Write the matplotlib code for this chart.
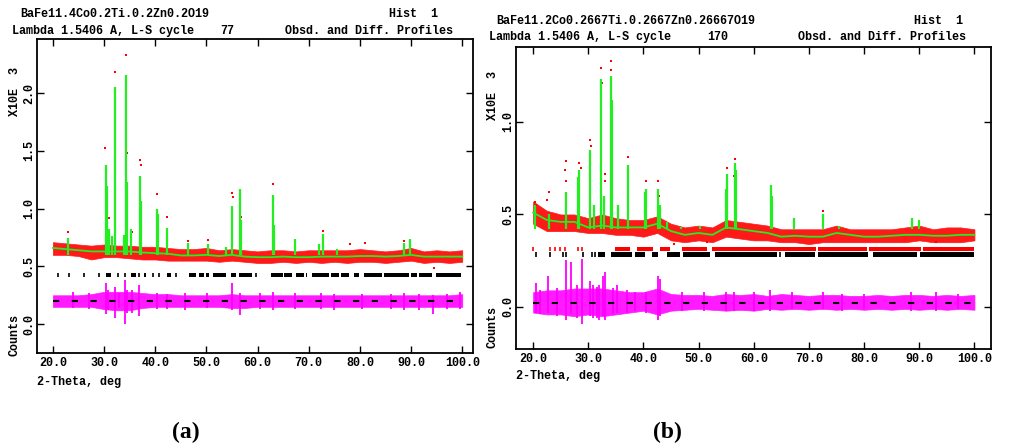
import numpy as np
import matplotlib.pyplot as plt

plt.rcParams['font.family'] = ['Liberation Mono', 'DejaVu Sans Mono']
plt.rcParams['font.weight'] = 'bold'

W, H = 1012, 445
green = '#22ee22'
red = '#ff0000'
magenta = '#ff00ff'
txt_size = 8.5

# common 2-theta knots for bands (every 2.5 deg)
knot_x = [20, 22.5, 25, 27.5, 30, 32.5, 35, 37.5, 40, 42.5, 45, 47.5, 50, 52.5, 55, 57.5, 60,
          62.5, 65, 67.5, 70, 72.5, 75, 77.5, 80, 82.5, 85, 87.5, 90, 92.5, 95, 97.5, 100]

# ---------------- panel (a) ----------------
a_bg = [0.66, 0.65, 0.64, 0.63, 0.63, 0.63, 0.63, 0.62, 0.615, 0.61, 0.595, 0.595, 0.60, 0.59, 0.60, 0.585, 0.58,
        0.58, 0.585, 0.58, 0.58, 0.585, 0.585, 0.585, 0.59, 0.59, 0.585, 0.59, 0.60, 0.585, 0.585, 0.585, 0.585]
a_obs_lo = [0.60, 0.60, 0.59, 0.56, 0.58, 0.58, 0.57, 0.56, 0.56, 0.55, 0.55, 0.55, 0.55, 0.54, 0.55, 0.54, 0.53,
            0.53, 0.54, 0.53, 0.54, 0.53, 0.54, 0.53, 0.54, 0.54, 0.53, 0.54, 0.55, 0.53, 0.54, 0.53, 0.54]
a_obs_hi = [0.71, 0.70, 0.69, 0.68, 0.69, 0.68, 0.68, 0.67, 0.67, 0.66, 0.65, 0.65, 0.66, 0.64, 0.65, 0.64, 0.63,
            0.64, 0.64, 0.63, 0.64, 0.64, 0.64, 0.64, 0.65, 0.64, 0.63, 0.64, 0.66, 0.63, 0.64, 0.63, 0.64]
a_peak_x = [22.9, 30.3, 30.5, 31.0, 31.5, 32.2, 33.9, 34.2, 34.4, 35.2, 37.1, 37.3, 40.3, 40.6, 42.4, 46.5,
            50.3, 53.8, 55.1, 56.5, 56.8, 63.1, 63.3, 67.4, 72.0, 72.7, 75.5, 88.6, 89.7]
a_peak_y = [0.75, 1.38, 1.20, 0.82, 0.76, 2.05, 0.77, 2.16, 1.23, 0.82, 1.28, 1.07, 1.00, 0.95, 0.83, 0.70,
            0.69, 0.67, 1.02, 1.17, 0.90, 1.12, 0.86, 0.74, 0.69, 0.78, 0.65, 0.70, 0.74]
a_dot_x = [22.9, 30.2, 31.0, 32.1, 34.2, 34.4, 35.4, 37.1, 37.2, 40.3, 42.4, 46.5, 50.3, 55.1, 55.2, 56.6,
           56.7, 63.1, 72.7, 78.0, 81.0, 88.7, 94.5]
a_dot_y = [0.80, 1.53, 0.92, 2.18, 2.33, 1.48, 0.80, 1.42, 1.38, 1.13, 0.93, 0.72, 0.73, 1.14, 1.10, 0.95,
           0.93, 1.21, 0.81, 0.69, 0.70, 0.72, 0.49]
a_diff_lo = [0.15, 0.15, 0.15, 0.15, 0.13, 0.12, 0.12, 0.14, 0.15, 0.15, 0.15, 0.15, 0.15, 0.15, 0.14, 0.14, 0.15,
             0.15, 0.15, 0.15, 0.15, 0.15, 0.15, 0.15, 0.15, 0.15, 0.15, 0.15, 0.15, 0.15, 0.15, 0.15, 0.15]
a_diff_hi = [0.25, 0.25, 0.25, 0.26, 0.28, 0.28, 0.28, 0.27, 0.26, 0.26, 0.25, 0.25, 0.25, 0.25, 0.26, 0.25, 0.25,
             0.25, 0.25, 0.25, 0.25, 0.25, 0.25, 0.25, 0.25, 0.25, 0.25, 0.25, 0.25, 0.25, 0.25, 0.25, 0.26]
a_spike_x = [24.0, 27.0, 30.3, 30.7, 32.2, 33.0, 34.1, 34.4, 35.4, 36.9, 40.4, 42.4, 45.8, 50.2, 55.1, 56.5,
             60.5, 63.0, 67.3, 72.3, 75.0, 80.5, 86.0, 88.6, 91.5, 94.2, 97.0, 99.5]
a_spike_lo = [0.14, 0.13, 0.09, 0.12, 0.05, 0.14, 0.00, 0.10, 0.10, 0.07, 0.13, 0.13, 0.12, 0.14, 0.12, 0.08,
              0.13, 0.12, 0.13, 0.13, 0.12, 0.13, 0.13, 0.12, 0.12, 0.09, 0.13, 0.13]
a_spike_hi = [0.28, 0.27, 0.36, 0.30, 0.32, 0.27, 0.38, 0.30, 0.30, 0.34, 0.27, 0.26, 0.27, 0.27, 0.36, 0.27,
              0.27, 0.28, 0.27, 0.27, 0.26, 0.26, 0.26, 0.27, 0.26, 0.25, 0.26, 0.28]
a_hkl_x = [21.0, 23.1, 26.0, 29.0, 32.7, 34.0, 36.9, 39.5, 40.8, 44.1, 59.7]
a_run_start = [30.4, 35.3, 37.9, 42.4, 46.7, 48.6, 49.9, 51.2, 54.8, 56.4, 62.6, 65.2, 67.5, 69.4, 70.7, 74.3,
               76.3, 78.9, 80.8, 84.7, 89.9, 91.6, 94.8]
a_run_end = [31.4, 36.3, 38.2, 43.1, 48.0, 49.6, 50.6, 53.8, 55.8, 59.0, 64.9, 66.8, 69.1, 69.7, 74.0, 75.9,
             77.9, 79.9, 84.3, 89.6, 91.2, 94.1, 99.7]

# ---------------- panel (b) ----------------
b_bg = [0.51, 0.47, 0.46, 0.46, 0.43, 0.44, 0.43, 0.43, 0.43, 0.45, 0.41, 0.39, 0.40, 0.39, 0.43, 0.42, 0.41,
        0.40, 0.38, 0.385, 0.38, 0.38, 0.40, 0.39, 0.38, 0.38, 0.385, 0.39, 0.39, 0.385, 0.385, 0.39, 0.39]
b_obs_lo = [0.45, 0.41, 0.41, 0.41, 0.40, 0.40, 0.39, 0.39, 0.38, 0.40, 0.36, 0.35, 0.36, 0.35, 0.38, 0.37, 0.36,
            0.36, 0.35, 0.35, 0.34, 0.35, 0.35, 0.35, 0.35, 0.35, 0.35, 0.35, 0.36, 0.35, 0.35, 0.35, 0.36]
b_obs_hi = [0.57, 0.52, 0.50, 0.50, 0.48, 0.50, 0.48, 0.47, 0.47, 0.49, 0.45, 0.43, 0.44, 0.43, 0.47, 0.46, 0.45,
            0.44, 0.42, 0.42, 0.42, 0.42, 0.44, 0.42, 0.42, 0.42, 0.42, 0.43, 0.44, 0.42, 0.43, 0.43, 0.42]
b_peak_x = [20.3, 22.8, 25.9, 28.2, 28.4, 30.4, 31.0, 32.3, 32.9, 34.2, 34.3, 35.4, 37.2, 40.3, 40.5, 42.6,
            43.0, 44.3, 46.8, 50.2, 54.9, 55.2, 56.6, 56.8, 63.1, 63.3, 67.3, 72.6, 75.5, 88.7, 89.9, 97.0]
b_peak_y = [0.55, 0.50, 0.62, 0.70, 0.74, 0.85, 0.55, 1.23, 0.60, 1.25, 1.12, 0.55, 0.77, 0.62, 0.64, 0.64,
            0.55, 0.46, 0.43, 0.44, 0.64, 0.72, 0.78, 0.74, 0.66, 0.60, 0.48, 0.50, 0.44, 0.48, 0.47, 0.42]
b_dot_x = [20.3, 20.6, 22.6, 22.8, 25.8, 25.9, 26.0, 28.4, 28.6, 30.4, 30.5, 32.3, 32.4, 33.0, 33.1, 34.2,
           34.2, 37.2, 40.4, 42.6, 42.8, 45.5, 51.5, 55.2, 56.4, 56.6, 63.2, 72.6, 93.0]
b_dot_y = [0.57, 0.55, 0.58, 0.62, 0.74, 0.79, 0.68, 0.78, 0.75, 0.90, 0.87, 1.29, 1.21, 0.72, 0.68, 1.33,
           1.28, 0.81, 0.68, 0.68, 0.60, 0.34, 0.35, 0.75, 0.71, 0.80, 0.60, 0.52, 0.35]
b_diff_lo = [-0.03, -0.04, -0.04, -0.05, -0.04, -0.05, -0.04, -0.03, -0.02, -0.04, -0.02, -0.015, -0.01, -0.015,
             -0.02, -0.015, -0.02, -0.01, -0.015, -0.01, -0.015, -0.01, -0.015, -0.01, -0.015, -0.01, -0.015,
             -0.01, -0.015, -0.01, -0.015, -0.01, -0.015]
b_diff_hi = [0.08, 0.09, 0.09, 0.10, 0.10, 0.10, 0.09, 0.08, 0.08, 0.10, 0.07, 0.065, 0.065, 0.06, 0.07, 0.065,
             0.07, 0.06, 0.07, 0.065, 0.06, 0.065, 0.065, 0.06, 0.06, 0.065, 0.06, 0.065, 0.065, 0.06, 0.065,
             0.06, 0.065]
b_spike_x = [20.5, 21.2, 22.7, 24.3, 25.9, 26.8, 28.0, 28.9, 30.3, 30.8, 31.6, 32.0, 32.7, 33.0, 34.5, 35.2,
             37.0, 38.5, 40.5, 42.7, 43.0, 47.0, 51.0, 55.0, 56.5, 60.0, 63.0, 67.0, 72.5, 76.0, 80.0, 88.5,
             93.0, 97.0]
b_spike_lo = [-0.03, -0.04, -0.035, -0.05, -0.07, -0.04, -0.06, -0.09, -0.05, -0.06, -0.06, -0.07, -0.05,
              -0.07, -0.04, -0.03, -0.03, -0.02, -0.03, -0.07, -0.05, -0.02, -0.02, -0.02, -0.02, -0.02, -0.02,
              -0.01, -0.01, -0.02, -0.01, -0.02, -0.02, -0.01]
b_spike_hi = [0.13, 0.09, 0.165, 0.10, 0.255, 0.245, 0.12, 0.26, 0.14, 0.12, 0.11, 0.12, 0.17, 0.19, 0.10,
              0.12, 0.09, 0.08, 0.08, 0.17, 0.15, 0.08, 0.08, 0.08, 0.08, 0.08, 0.09, 0.08, 0.08, 0.07, 0.07,
              0.08, 0.08, 0.07]
# reflection markers, phase 1 (red) and phase 2 (black)
b_hkl1_x = [20.0, 23.0, 23.9, 24.8, 25.7, 28.1, 28.8]
b_run1_start = [34.8, 38.8, 43.0, 46.9, 52.4, 71.6, 80.9, 90.7]
b_run1_end = [37.5, 41.8, 44.8, 51.5, 71.2, 80.5, 90.3, 100.0]
b_hkl2_x = [20.6, 23.0, 25.4, 26.0, 29.0, 30.6, 31.2, 64.8]
b_run2_start = [31.7, 34.2, 38.4, 41.5, 44.2, 47.2, 53.0, 65.7, 71.7, 81.6, 90.1]
b_run2_end = [33.0, 37.9, 40.3, 42.6, 46.6, 52.1, 64.2, 71.1, 80.7, 89.6, 100.0]

x_ticks = [20, 30, 40, 50, 60, 70, 80, 90, 100]
x_tick_labels = ['20.0', '30.0', '40.0', '50.0', '60.0', '70.0', '80.0', '90.0', '100.0']


def fig_xy(x, y):
    return x / W, 1 - y / H


def draw_marks(ax, xs, starts, ends, y0, y1, color):
    ax.vlines(xs, y0, y1, color=color, lw=1.2, zorder=3)
    spans = [(s, e - s) for s, e in zip(starts, ends)]
    ax.broken_barh(spans, (y0, y1 - y0), facecolors=color, zorder=3)


def draw_panel(ax, bg, obs_lo, obs_hi, pk_x, pk_y, base, dot_x, dot_y,
               d_lo, d_hi, sp_x, sp_lo, sp_hi, zero, ylim, yticks, xmax):
    # observed points
    ax.fill_between(knot_x, obs_lo, obs_hi, color='#ff1a1a', lw=0.5, zorder=2)
    ax.scatter(dot_x, dot_y, s=3, marker='s', color=red, lw=0, zorder=2)
    # calculated profile
    ax.plot(knot_x, bg, color=green, lw=1.3, zorder=3)
    ax.vlines(pk_x, base, pk_y, color=green, lw=1.6, zorder=3)
    # difference curve
    ax.fill_between(knot_x, d_lo, d_hi, color='#ff1aff', lw=0.5, zorder=2)
    ax.vlines(sp_x, sp_lo, sp_hi, color=magenta, lw=1.3, zorder=2)
    ax.hlines(zero, 20, 100, color='black', lw=1.5, linestyles=(0, (3, 6)), zorder=4)

    ax.set_xlim(16.9, xmax)
    ax.set_ylim(ylim)
    ax.set_xticks(x_ticks)
    ax.set_xticklabels(x_tick_labels, fontsize=txt_size)
    ax.set_yticks(yticks)
    ax.set_yticklabels(['%.1f' % v for v in yticks], fontsize=txt_size, rotation=90, va='center')
    ax.tick_params(direction='in', top=True, right=True, length=5, width=1)
    ax.tick_params(axis='x', pad=3)
    ax.tick_params(axis='y', pad=1)
    for s in ax.spines.values():
        s.set_linewidth(1.3)


fig = plt.figure(figsize=(W / 100, H / 100), dpi=100)
ax_a = fig.add_axes([37 / W, 1 - 353 / H, 436 / W, 314 / H])
ax_b = fig.add_axes([516 / W, 1 - 349 / H, 475 / W, 302 / H])

draw_panel(ax_a, a_bg, a_obs_lo, a_obs_hi, a_peak_x, a_peak_y, 0.6, a_dot_x, a_dot_y,
           a_diff_lo, a_diff_hi, a_spike_x, a_spike_lo, a_spike_hi, 0.2, (-0.25, 2.47),
           [0.0, 0.5, 1.0, 1.5, 2.0], 102.1)
draw_marks(ax_a, a_hkl_x, a_run_start, a_run_end, 0.405, 0.445, 'black')

draw_panel(ax_b, b_bg, b_obs_lo, b_obs_hi, b_peak_x, b_peak_y, 0.42, b_dot_x, b_dot_y,
           b_diff_lo, b_diff_hi, b_spike_x, b_spike_lo, b_spike_hi, 0.022, (-0.227, 1.405),
           [0.0, 0.5, 1.0], 103.0)
draw_marks(ax_b, b_hkl1_x, b_run1_start, b_run1_end, 0.30, 0.325, red)
draw_marks(ax_b, b_hkl2_x, b_run2_start, b_run2_end, 0.268, 0.296, 'black')

# header texts
fig.text(*fig_xy(20, 14), 'BaFe11.4Co0.2Ti.0.2Zn0.2O19', fontsize=txt_size, va='center', ha='left')
fig.text(*fig_xy(438, 14), 'Hist  1', fontsize=txt_size, va='center', ha='right')
fig.text(*fig_xy(12, 31), 'Lambda 1.5406 A, L-S cycle', fontsize=txt_size, va='center', ha='left')
fig.text(*fig_xy(220, 31), '77', fontsize=txt_size, va='center', ha='left')
fig.text(*fig_xy(453, 31), 'Obsd. and Diff. Profiles', fontsize=txt_size, va='center', ha='right')

fig.text(*fig_xy(496, 21), 'BaFe11.2Co0.2667Ti.0.2667Zn0.26667O19', fontsize=txt_size, va='center', ha='left')
fig.text(*fig_xy(963, 21), 'Hist  1', fontsize=txt_size, va='center', ha='right')
fig.text(*fig_xy(489, 37), 'Lambda 1.5406 A, L-S cycle', fontsize=txt_size, va='center', ha='left')
fig.text(*fig_xy(707, 37), '170', fontsize=txt_size, va='center', ha='left')
fig.text(*fig_xy(966, 37), 'Obsd. and Diff. Profiles', fontsize=txt_size, va='center', ha='right')

# side labels
fig.text(*fig_xy(15, 92), 'X10E  3', fontsize=txt_size, rotation=90, va='center', ha='center')
fig.text(*fig_xy(15, 335), 'Counts', fontsize=txt_size, rotation=90, va='center', ha='center')
fig.text(*fig_xy(493, 96), 'X10E  3', fontsize=txt_size, rotation=90, va='center', ha='center')
fig.text(*fig_xy(493, 327), 'Counts', fontsize=txt_size, rotation=90, va='center', ha='center')

fig.text(*fig_xy(37, 382), '2-Theta, deg', fontsize=txt_size, va='center', ha='left')
fig.text(*fig_xy(516, 376), '2-Theta, deg', fontsize=txt_size, va='center', ha='left')

fig.text(*fig_xy(186, 432), '(a)', fontsize=17, family='Liberation Serif', weight='bold',
         va='center', ha='center')
fig.text(*fig_xy(667, 432), '(b)', fontsize=17, family='Liberation Serif', weight='bold',
         va='center', ha='center')

fig.savefig('out.png', dpi=100)
